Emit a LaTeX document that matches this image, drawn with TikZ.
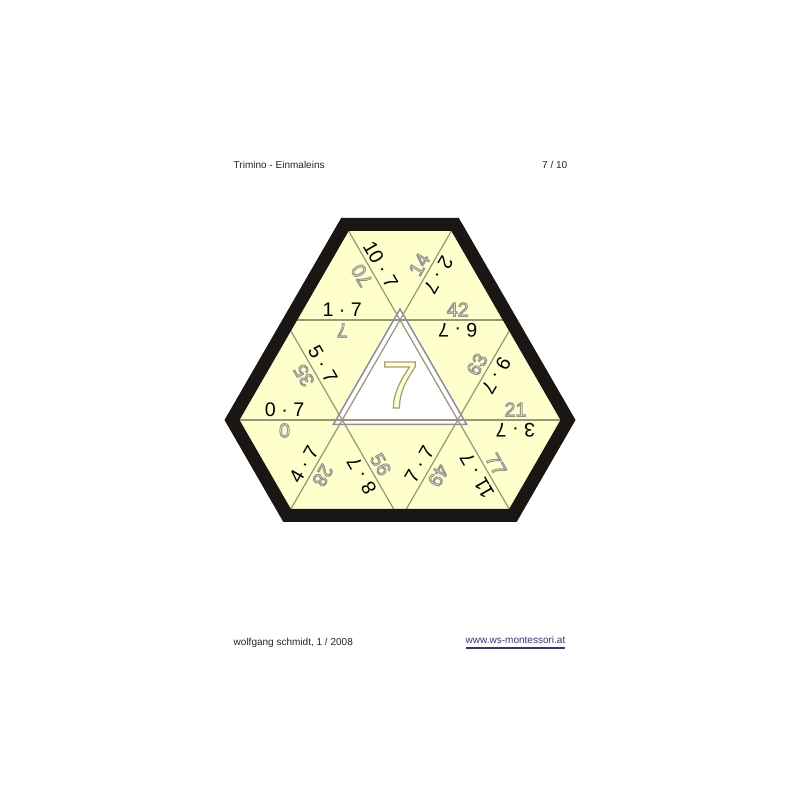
\documentclass[tikz,border=0pt]{standalone}
\usepackage{fontspec}
\setmainfont{Liberation Sans}
\usetikzlibrary{calc}
\definecolor{tilefill}{RGB}{255,255,204}
\definecolor{gridgray}{RGB}{150,150,120}
\definecolor{tribord}{RGB}{140,140,165}
\definecolor{sevenfill}{RGB}{255,255,215}
\definecolor{framecol}{RGB}{25,22,20}
\definecolor{linkblue}{RGB}{51,51,140}
% outlined figures (stroke only, grey)
\def\answ#1{\special{pdf:literal direct 1 Tr 0.28 w 0.58 0.58 0.58 RG}#1\special{pdf:literal direct 0 Tr}}
\def\bigseven#1{\special{pdf:literal direct 2 Tr 0.35 w 0.66 0.63 0.38 RG}#1\special{pdf:literal direct 0 Tr}}

\begin{document}
\begin{tikzpicture}[
		ques/.style={font=\fontsize{5.6}{6}\selectfont, inner sep=0pt},
		answ/.style={font=\fontsize{5.6}{6}\selectfont, inner sep=0pt},
		small/.style={font=\fontsize{2.85}{3.2}\selectfont, inner sep=0pt, text=black!85}]
		%%%%% START %%%%%
		
		\useasboundingbox[fill=white] (0,0) rectangle (8,8);
		
		\coordinate (p1) at (3.423,5.8);
		\coordinate (p2) at (4.577,5.8);
		\coordinate (q1) at (2.845,4.8);
		\coordinate (q2) at (4.0,4.8);
		\coordinate (q3) at (5.155,4.8);
		\coordinate (r1) at (2.268,3.8);
		\coordinate (r2) at (3.423,3.8);
		\coordinate (r3) at (4.577,3.8);
		\coordinate (r4) at (5.732,3.8);
		\coordinate (s1) at (2.845,2.8);
		\coordinate (s2) at (4.0,2.8);
		\coordinate (s3) at (5.155,2.8);
		
		\fill[tilefill] (p1) -- (p2) -- (r4) -- (s3) -- (s1) -- (r1) -- cycle;
		
		\draw[fill=white, draw=tribord, line width=0.15mm] (4.0,4.91) -- (4.667,3.755) -- (3.333,3.755) -- cycle;
		
		\draw[gridgray, line width=0.12mm] (q1) -- (q3) (r1) -- (r4);
		\draw[gridgray, line width=0.12mm] (p1) -- (s3) (q1) -- (s2);
		\draw[gridgray, line width=0.12mm] (p2) -- (s1) (q3) -- (s2);
		
		\node[ques, rotate=-60] (q10) at (3.807,5.355) {10 · 7};
		\node[answ, rotate=120] (a10) at (3.616,5.245) {\answ{70}};
		\node[answ, rotate=60] (a2) at (4.193,5.355) {\answ{14}};
		\node[ques, rotate=-120] (q2) at (4.384,5.245) {2 · 7};
		\node[ques] (q1) at (3.4225,4.905) {1 · 7};
		\node[answ, rotate=180] (a1) at (3.4225,4.695) {\answ{7}};
		\node[answ] (a6) at (4.5775,4.905) {\answ{42}};
		\node[ques, rotate=180] (q6) at (4.5775,4.695) {6 · 7};
		
		\node[answ, rotate=120] (a5) at (3.039,4.245) {\answ{35}};
		\node[ques, rotate=-60] (q5) at (3.229,4.355) {5 · 7};
		\node[answ, rotate=60] (a9) at (4.771,4.355) {\answ{63}};
		\node[ques, rotate=-120] (q9) at (4.961,4.245) {9 · 7};
		\node[ques] (q0) at (2.8455,3.905) {0 · 7};
		\node[answ, rotate=180] (a0) at (2.8455,3.695) {\answ{0}};
		\node[answ] (a3) at (5.1545,3.905) {\answ{21}};
		\node[ques, rotate=180] (q3) at (5.1545,3.695) {3 · 7};
		
		\node[ques, rotate=60] (q4) at (3.039,3.355) {4 · 7};
		\node[answ, rotate=-120] (a4) at (3.229,3.245) {\answ{28}};
		\node[ques, rotate=120] (q8) at (3.616,3.245) {8 · 7};
		\node[answ, rotate=-60] (a8) at (3.807,3.355) {\answ{56}};
		\node[ques, rotate=60] (q7) at (4.193,3.355) {7 · 7};
		\node[answ, rotate=-120] (a7) at (4.384,3.245) {\answ{49}};
		\node[ques, rotate=120] (q11) at (4.771,3.245) {11 · 7};
		\node[answ, rotate=-60] (a11) at (4.961,3.355) {\answ{77}};
		
		\node[font=\fontsize{19}{20}\selectfont, inner sep=0pt, text=sevenfill] (seven) at (4.0,4.15) {\bigseven{7}};
		
		% frame
		\begin{scope}
			\clip (p1) -- (p2) -- (r4) -- (s3) -- (s1) -- (r1) -- cycle;
			\draw[framecol, line width=2.2mm, line join=miter] (p1) -- (p2) -- (r4) -- (s3) -- (s1) -- (r1) -- cycle;
		\end{scope}
		\draw[framecol, line width=0.4mm, line join=miter] (p1) -- (p2) -- (r4) -- (s3) -- (s1) -- (r1) -- cycle;
		
		\node[small, anchor=west] (title) at (2.33,6.355) {Trimino - Einmaleins};
		\node[small, anchor=east] (page) at (5.68,6.355) {7 / 10};
		\node[small, anchor=west] (author) at (2.33,1.57) {wolfgang schmidt, 1 / 2008};
		\node[small, anchor=east, text=linkblue] (link) at (5.66,1.57) {\underline{www.ws-montessori.at}};
		
		%%%%% END %%%%%
	\end{tikzpicture}
\end{document}
